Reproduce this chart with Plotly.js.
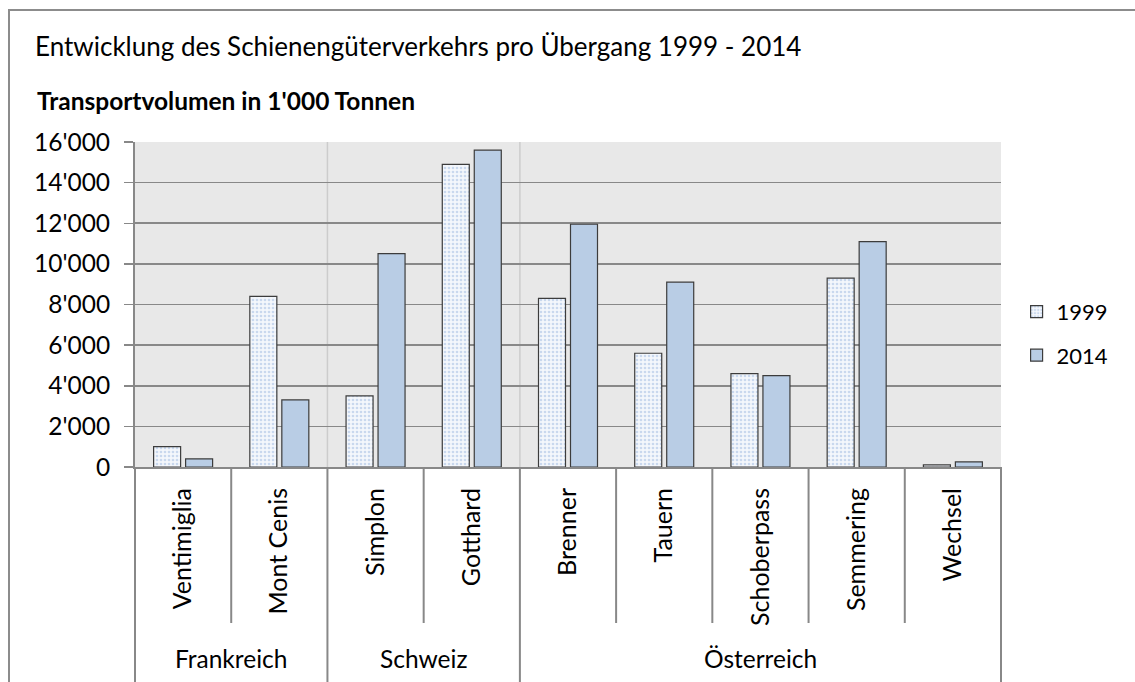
<!DOCTYPE html>
<html>
<head>
<meta charset="utf-8">
<script src="https://cdn.plot.ly/plotly-3.0.1.min.js"></script>
<style>
html,body{margin:0;padding:0;background:#fff;}
#wrap{position:relative;width:1135px;height:682px;overflow:hidden;}
#frame{position:absolute;left:8px;top:9px;width:1140px;height:700px;border:2px solid #8c8c8c;box-sizing:border-box;}
#chart{position:absolute;left:0;top:0;width:1135px;height:682px;}
</style>
</head>
<body>
<div id="wrap"><div id="frame"></div><div id="chart"></div></div>
<script>
const passes = ["Ventimiglia","Mont Cenis","Simplon","Gotthard","Brenner","Tauern","Schoberpass","Semmering","Wechsel"];
const countries = ["Frankreich","Frankreich","Schweiz","Schweiz","Österreich","Österreich","Österreich","Österreich","Österreich"];
const groupNames = ["Frankreich","Schweiz","Österreich"];
const values1999 = [1000, 8400, 3500, 14900, 8300, 5600, 4600, 9300, 100];
const values2014 = [400, 3300, 10500, 15600, 11950, 9100, 4500, 11100, 250];
const yTicks = [0,2000,4000,6000,8000,10000,12000,14000,16000];

const FONT = "Lato, 'Open Sans', sans-serif";
const lineCol = "#888888";

const traces = [
  {type:"bar", name:"1999", x:passes, y:values1999, legendgroup:"a",
   marker:{color:"#f2f6fb", line:{color:"#3c3c3c", width:1.2},
           pattern:{shape:".", fgcolor:"#c9d8ee", bgcolor:"#f4f7fc", size:4, solidity:0.35}}},
  {type:"bar", name:"2014", x:passes, y:values2014, legendgroup:"b",
   marker:{color:"#b9cde5", line:{color:"#3c3c3c", width:1.2}}}
];

const shapes = [];
for(let i=1;i<passes.length;i++){
  const isGroup = countries[i]!==countries[i-1];
  shapes.push({type:"line", xref:"x", yref:"paper", x0:i-0.5, x1:i-0.5, y0:0, y1:isGroup?-0.7:-0.48,
    line:{color:lineCol, width:2}});
  if(isGroup){
    shapes.push({type:"line", xref:"x", yref:"paper", x0:i-0.5, x1:i-0.5, y0:0, y1:1,
      line:{color:"#cccccc", width:1.5}, layer:"below"});
  }
}
shapes.push({type:"line", xref:"paper", yref:"paper", x0:0, x1:0, y0:0, y1:-0.7, line:{color:lineCol, width:2}});
shapes.push({type:"line", xref:"paper", yref:"paper", x0:1, x1:1, y0:0, y1:-0.7, line:{color:lineCol, width:2}});

const annotations = [];
groupNames.forEach(g=>{
  const idx = countries.map((c,i)=>c===g?i:-1).filter(i=>i>=0);
  const mid = (idx[0]+idx[idx.length-1])/2;
  annotations.push({xref:"x", yref:"paper", x:mid, y:-0.588, text:g, showarrow:false,
    font:{family:FONT, size:24.5, color:"#000"}, xanchor:"center", yanchor:"middle"});
});
annotations.push({xref:"paper", yref:"paper", x:-0.115, y:1.127, xanchor:"left", yanchor:"middle",
  text:"<b>Transportvolumen in 1'000 Tonnen</b>", showarrow:false,
  font:{family:FONT, size:24.5, color:"#000"}});

const layout = {
  width:1135, height:682,
  margin:{l:135, r:134, t:142, b:215},
  paper_bgcolor:"rgba(0,0,0,0)",
  plot_bgcolor:"#e8e8e8",
  separators:".'",
  font:{family:FONT, color:"#000"},
  title:{text:"Entwicklung des Schienengüterverkehrs pro Übergang 1999 - 2014",
    x:35/1135, xref:"container", xanchor:"left", y:1-47/682, yref:"container", yanchor:"middle",
    font:{family:FONT, size:26, color:"#000"}},
  barmode:"group", bargap:0.335, bargroupgap:0.156,
  xaxis:{type:"category", tickangle:-90, tickfont:{family:FONT, size:25, color:"#000"},
    showline:true, linecolor:lineCol, linewidth:2, showgrid:false, ticks:"", ticklabelstandoff:9,
    fixedrange:true},
  yaxis:{range:[0,16000], tickvals:yTicks, tickformat:",d", tickfont:{family:FONT, size:24.5, color:"#000"},
    showline:true, linecolor:lineCol, linewidth:2, ticks:"outside", ticklen:9, tickcolor:lineCol, tickwidth:1.5,
    showgrid:true, gridcolor:lineCol, gridwidth:1.7, zeroline:false, ticklabelstandoff:9},
  legend:{x:1.018, xanchor:"left", y:0.41, yanchor:"middle", font:{family:FONT, size:22, color:"#000"},
    tracegroupgap:12, traceorder:"grouped", bgcolor:"rgba(0,0,0,0)"},
  shapes:shapes, annotations:annotations
};
Plotly.newPlot("chart", traces, layout, {displayModeBar:false, staticPlot:true});
</script>
</body>
</html>
